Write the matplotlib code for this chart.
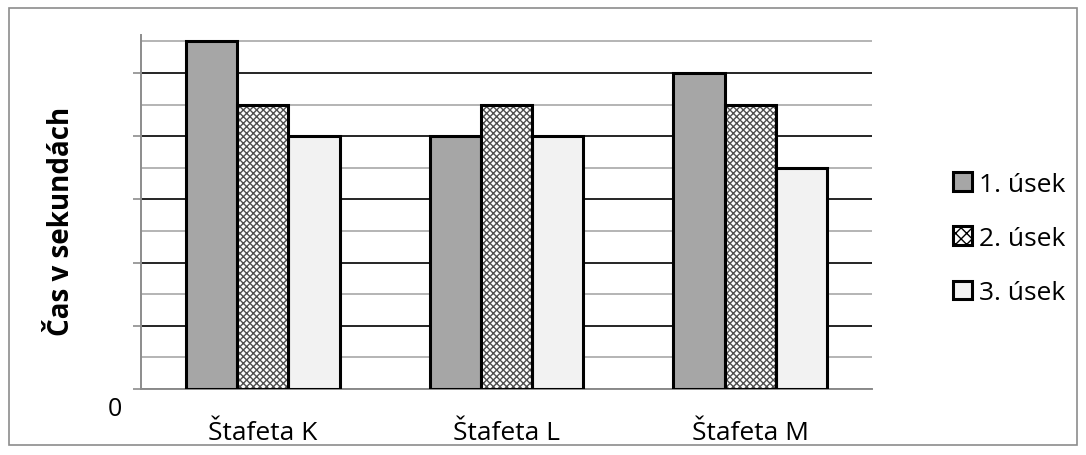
import numpy as np
import matplotlib
matplotlib.use('Agg')
from matplotlib import pyplot as plt
from matplotlib.patches import Patch, Rectangle
from matplotlib.transforms import ScaledTranslation
from matplotlib.ticker import MultipleLocator

plt.rcParams['font.family'] = ['Open Sans', 'DejaVu Sans']

categories = ['Štafeta K', 'Štafeta L', 'Štafeta M']
series_names = ['1. úsek', '2. úsek', '3. úsek']
useky_1 = [11, 8, 10]
useky_2 = [9, 9, 9]
useky_3 = [8, 8, 7]

fig = plt.figure(figsize=(10.86, 4.56), dpi=100)
ax = fig.add_axes([0.1298, 0.1447, 0.8030 - 0.1298, 0.921 - 0.1447])

# outer frame of the chart area
fig.patches.append(Rectangle((9 / 1086, 10 / 456), 1068 / 1086, 437 / 456,
                             transform=fig.transFigure, fill=False,
                             edgecolor='#8c8c8c', linewidth=1.2))

x = np.arange(len(categories))
w = 0.21
fills = ['#a6a6a6', 'white', '#f2f2f2']

for i, vals in enumerate([useky_1, useky_2, useky_3]):
    pos = x + (i - 1) * w
    if i == 1:
        ax.bar(pos, vals, w, color='white', edgecolor='#505050', hatch='xxxxx',
               linewidth=0, zorder=3)
        ax.bar(pos, vals, w, color='none', edgecolor='black', linewidth=2.2, zorder=4)
    else:
        ax.bar(pos, vals, w, color=fills[i], edgecolor='black', linewidth=2.2, zorder=3)

ax.set_xticks(x)
ax.set_xticklabels(categories)
major = np.arange(0, 11, 2)
ax.set_yticks(major)
ax.set_yticklabels(['0' if v == 0 else '' for v in major])
ax.yaxis.set_minor_locator(MultipleLocator(1))
ax.set_xlim(-0.5, 2.5)
ax.set_ylim(0, 11.2)

ax.grid(which='major', axis='y', color='black', linewidth=1.2, zorder=1)
ax.grid(which='minor', axis='y', color='#b4b4b4', linewidth=1.4, zorder=1)
ax.set_axisbelow(True)

for s in ['top', 'right']:
    ax.spines[s].set_visible(False)
for s in ['left', 'bottom']:
    ax.spines[s].set_color('#8c8c8c')
    ax.spines[s].set_linewidth(1.4)

ax.tick_params(axis='y', which='major', length=6, width=1.2, color='#8c8c8c',
               labelsize=18, pad=8)
ax.tick_params(axis='y', which='minor', length=0)
ax.tick_params(axis='x', length=0, labelsize=19, pad=22)

for lab in ax.get_yticklabels():
    lab.set_transform(lab.get_transform() + ScaledTranslation(0, -12 / 72, fig.dpi_scale_trans))

ax.set_ylabel('Čas v sekundách', fontsize=20, fontweight='bold')
ax.yaxis.set_label_coords(-0.089, 0.475)

handles = [Patch(facecolor='#a6a6a6', edgecolor='black', linewidth=2.2),
           Patch(facecolor='white', edgecolor='black', linewidth=2.2, hatch='xxx'),
           Patch(facecolor='#f2f2f2', edgecolor='black', linewidth=2.2)]
fig.legend(handles, series_names, loc='center left', bbox_to_anchor=(0.8556, 0.475),
           frameon=False, fontsize=19, handlelength=0.72, handleheight=0.72,
           handletextpad=0.27, labelspacing=1.11)

fig.savefig('out.png', dpi=100)
